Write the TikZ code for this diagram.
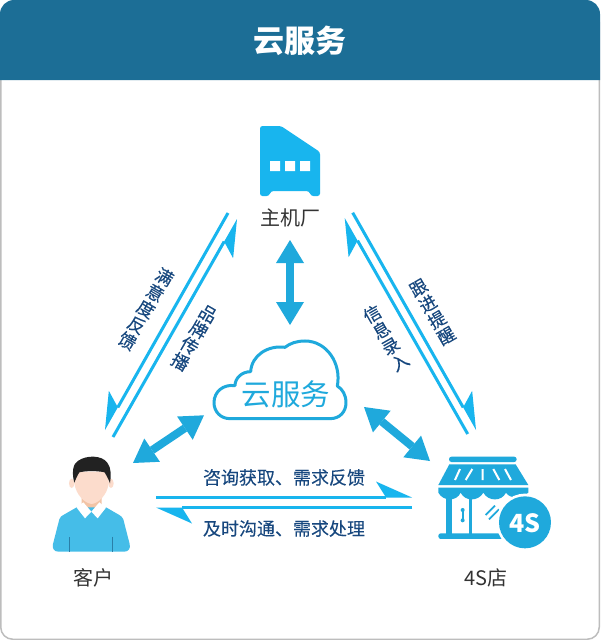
\documentclass[tikz,border=0pt]{standalone}
\usepackage{fontspec}
\setmainfont{Noto Sans CJK SC}
\newfontfamily\flowfont[FakeBold=0.15]{Noto Sans CJK SC}
\usetikzlibrary{arrows.meta}
\definecolor{headc}{HTML}{1C6E96}
\definecolor{framec}{HTML}{BDBDBD}
\definecolor{skyc}{HTML}{18B5EE}
\definecolor{bluec}{HTML}{1FA9DC}
\definecolor{labelc}{HTML}{17477E}
\definecolor{namec}{HTML}{333333}
\definecolor{skinc}{HTML}{FCDCCC}
\definecolor{neckc}{HTML}{F2C4A6}
\definecolor{shirtc}{HTML}{45BDE8}
\definecolor{foldc}{HTML}{2A7FA8}
\definecolor{hairc}{HTML}{222222}
\tikzset{
  bigarrow/.style={draw=bluec,line width=8pt,{Triangle[length=23pt,width=28pt,line width=0pt]}-{Triangle[length=23pt,width=28pt,line width=0pt]}},
  halfarrow/.style={draw=skyc,line width=3pt,-{Stealth[length=36pt,width=32pt,inset=10pt,harpoon,line width=0pt]}},
  halfarrowswap/.style={draw=skyc,line width=3pt,-{Stealth[length=36pt,width=32pt,inset=10pt,harpoon,swap,line width=0pt]}},
  flow/.style={text=labelc,inner sep=0pt,font=\flowfont\fontsize{18}{18}\selectfont},
  vflow/.style={text=labelc,inner sep=0pt,align=center,text width=18pt,font=\flowfont\fontsize{17.5}{18.5}\selectfont},
  actor/.style={text=namec,inner sep=0pt,font=\fontsize{20}{20}\selectfont},
  zoomed/.style={x=0.3333pt,y=-0.3333pt},
}
\begin{document}
\begin{tikzpicture}[x=1pt,y=-1pt]
\useasboundingbox (0,0) rectangle (600,640);
% frame and header
\draw[draw=framec,fill=white,line width=1.5pt,rounded corners=12pt] (0.75,10) rectangle (599.25,639.25);
\fill[headc] (0,80) [rounded corners=14pt] -- (0,0) -- (600,0) [sharp corners] -- (600,80) -- cycle;
\node[text=white,inner sep=0pt,font=\fontsize{31}{32}\selectfont\bfseries] (title) at (300,41) {云服务};
% host icon
\fill[skyc,rounded corners=2.5pt] (260,126) -- (281,126) -- (320,152) -- (320,196) -- (311,196) -- (309,191) -- (271,191) -- (269,196) -- (260,196) -- cycle;
\fill[white] (270,161) rectangle (280,171) (285,161) rectangle (295,171) (300,161) rectangle (310,171);
\node[actor] (host) at (290,218) {主机厂};
% cloud
\begin{scope}[shift={(200,230)},zoomed]
\draw[draw=bluec,line width=3pt,line join=round] (90,566) -- (390,566)
  .. controls (420,566) and (438,545) .. (438,518)
  .. controls (438,495) and (428,478) .. (412,468)
  .. controls (425,400) and (380,333) .. (315,333)
  .. controls (290,333) and (270,340) .. (255,352)
  .. controls (205,345) and (155,375) .. (152,425)
  .. controls (125,425) and (105,445) .. (105,467)
  .. controls (70,462) and (42,485) .. (42,518)
  .. controls (42,545) and (62,566) .. (90,566) -- cycle;
\end{scope}
\node[text=bluec,inner sep=0pt,font=\fontsize{29.5}{30}\selectfont] (cloud) at (286,394) {云服务};
% person
\begin{scope}[shift={(30,440)},zoomed]
\fill[skinc] (125,130) ellipse[x radius=8,y radius=14];
\fill[skinc] (243,130) ellipse[x radius=8,y radius=14];
\fill[neckc] (155,165) -- (215,165) -- (215,205) -- (185,225) -- (155,205) -- cycle;
\fill[shirtc] (85,335) .. controls (72,335) and (66,325) .. (69,312) -- (88,238) .. controls (90,230) and (95,228) .. (100,225) -- (140,202) -- (228,202) -- (268,225) .. controls (273,228) and (278,232) .. (280,238) -- (299,312) .. controls (302,325) and (296,335) .. (283,335) -- cycle;
\fill[white] (140,203) -- (160,187) -- (184,215) -- (165,235) -- cycle;
\fill[white] (228,203) -- (208,187) -- (184,215) -- (203,235) -- cycle;
\fill[skinc] (133,95) -- (236,95) -- (236,130) .. controls (232,165) and (205,190) .. (185,192) .. controls (165,190) and (138,165) .. (133,130) -- cycle;
\fill[hairc] (133,128) .. controls (125,100) and (128,70) .. (145,62) .. controls (170,45) and (215,45) .. (232,68) .. controls (245,85) and (243,110) .. (240,130) .. controls (235,115) and (228,105) .. (224,97) .. controls (200,92) and (170,92) .. (148,97) .. controls (140,110) and (137,118) .. (133,128) -- cycle;
\draw[foldc,line width=1pt] (118,292) -- (118,335) (248,290) -- (248,335);
\end{scope}
\node[actor] (customer) at (93,578) {客户};
% store
\begin{scope}[shift={(420,440)},zoomed]
\fill[bluec,rounded corners=2.5pt] (87,50) rectangle (290,66);
\fill[bluec] (88,73) -- (287,73) -- (325,135) -- (55,135) -- cycle;
\draw[white,line width=2pt] (120,87) -- (105,120) (157,87) -- (137,120) (188,87) -- (188,120) (220,87) -- (238,120) (255,87) -- (273,120);
\fill[bluec] (55,143) -- (325,143) -- (325,158)
  .. controls (305,175) and (270,178) .. (258,158)
  .. controls (245,185) and (205,185) .. (190,158)
  .. controls (175,185) and (135,185) .. (122,158)
  .. controls (110,185) and (70,185) .. (55,158) -- cycle;
\fill[bluec] (78,170) rectangle (97,285);
\fill[bluec] (148,165) rectangle (157,285);
\fill[bluec,rounded corners=2.5pt] (55,280) rectangle (250,297);
\draw[bluec,line width=1.8pt] (128,210) -- (128,240);
\fill[bluec] (128,210) circle[radius=6];
\fill[bluec] (128,241) circle[radius=6];
\draw[bluec,line width=1.8pt] (197,225) -- (225,197) (207,238) -- (237,208);
\fill[white] (315,247) circle[radius=86];
\fill[bluec] (315,247) circle[radius=78];
\end{scope}
\node[text=white,inner sep=0pt,font=\fontsize{25}{26}\selectfont\bfseries] (badge) at (525,523.5) {4S};
\node[actor] (store) at (486,578) {4S店};
% connector ends
\coordinate (hostS) at (290,240);
\coordinate (cloudN) at (290,325);
\coordinate (custE) at (133,463);
\coordinate (cloudW) at (204,415.3);
\coordinate (cloudE) at (364,407);
\coordinate (storeW) at (430,461);
\coordinate (a1) at (228,213); \coordinate (a2) at (105,430);
\coordinate (b1) at (113,437); \coordinate (b2) at (237,219);
\coordinate (c1) at (352.7,212.7); \coordinate (c2) at (476,430);
\coordinate (d1) at (467.7,434); \coordinate (d2) at (344.7,218);
\coordinate (e1) at (156,497.5); \coordinate (e2) at (412,497.5);
\coordinate (f1) at (412,507.5); \coordinate (f2) at (156,507.5);
% connectors
\draw[bigarrow] (hostS) -- (cloudN);
\draw[bigarrow] (custE) -- (cloudW);
\draw[bigarrow] (cloudE) -- (storeW);
\draw[halfarrowswap] (a1) -- (a2);
\draw[halfarrowswap] (b1) -- (b2);
\draw[halfarrow] (c1) -- (c2);
\draw[halfarrow] (d1) -- (d2);
\draw[halfarrow] (e1) -- (e2);
\draw[halfarrow] (f1) -- (f2);
% connector labels
\node[flow] (l1) at (284,477.5) {咨询获取、需求反馈};
\node[flow] (l2) at (284,528.5) {及时沟通、需求处理};
\node[vflow,rotate=-30] (l3) at (146,309) {满\\意\\度\\反\\馈};
\node[vflow,rotate=-30] (l4) at (194,338) {品\\牌\\传\\播};
\node[vflow,rotate=30] (l5) at (432.5,312) {跟\\进\\提\\醒};
\node[vflow,rotate=30] (l6) at (386,338) {信\\息\\录\\入};
\end{tikzpicture}
\end{document}
